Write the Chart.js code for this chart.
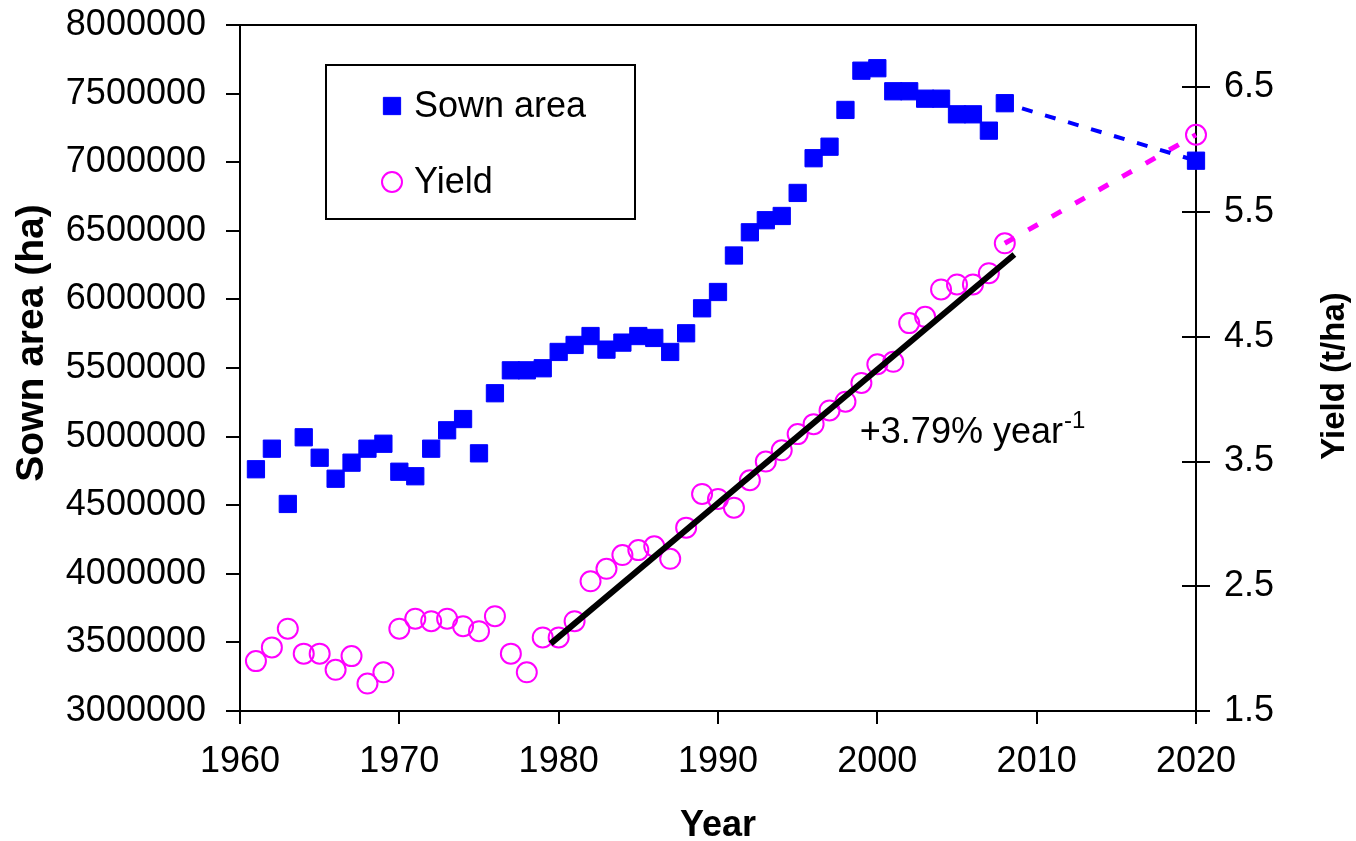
<!DOCTYPE html>
<html>
<head>
<meta charset="utf-8">
<title>Sown area and yield</title>
<script src="https://cdn.jsdelivr.net/npm/chart.js@4.4.1/dist/chart.umd.min.js"></script>
<style>
  html, body { margin: 0; padding: 0; background: #ffffff; }
  #wrap { width: 1356px; height: 841px; }
</style>
</head>
<body>
<div id="wrap"><canvas id="chart" width="1356" height="841"></canvas></div>
<script>
// ---- data ----
const years = [1961, 1962, 1963, 1964, 1965, 1966, 1967, 1968, 1969, 1970,
               1971, 1972, 1973, 1974, 1975, 1976, 1977, 1978, 1979, 1980,
               1981, 1982, 1983, 1984, 1985, 1986, 1987, 1988, 1989, 1990,
               1991, 1992, 1993, 1994, 1995, 1996, 1997, 1998, 1999, 2000,
               2001, 2002, 2003, 2004, 2005, 2006, 2007, 2008, 2020];

// sown area, ha
const sownArea = [4762000, 4912000, 4509000, 4995000, 4846000, 4693000, 4810000, 4912000, 4948000, 4744000,
                  4711000, 4912000, 5046000, 5128000, 4878000, 5316000, 5483000, 5483000, 5498000, 5617000,
                  5668000, 5733000, 5634000, 5685000, 5733000, 5719000, 5617000, 5753000, 5935000, 6054000,
                  6320000, 6489000, 6577000, 6608000, 6776000, 7029000, 7113000, 7381000, 7667000, 7685000,
                  7517000, 7517000, 7463000, 7463000, 7349000, 7349000, 7230000, 7430000, 7011000];

// yield, t/ha
const yieldTHa = [1.90, 2.01, 2.16, 1.96, 1.96, 1.83, 1.94, 1.72, 1.81, 2.16,
                  2.24, 2.22, 2.24, 2.18, 2.14, 2.26, 1.96, 1.81, 2.09, 2.09,
                  2.22, 2.54, 2.64, 2.75, 2.79, 2.82, 2.72, 2.97, 3.24, 3.20,
                  3.13, 3.35, 3.50, 3.59, 3.72, 3.80, 3.91, 3.98, 4.13, 4.28,
                  4.30, 4.61, 4.66, 4.88, 4.92, 4.92, 5.01, 5.25, 6.12];

// projection from the last observed year to 2020
const projectionYears = [2008, 2020];
const sownProjection = [7430000, 7011000];
const yieldProjection = [5.25, 6.12];

// linear yield trend since 1980
const trendYears = [1979.5, 2008.6];
const trendYield = [2.04, 5.16];
const trendText = '+3.79% year';
const trendSup = '-1';

// axis ticks
const yearTicks = [1960, 1970, 1980, 1990, 2000, 2010, 2020];
const areaTicks = [3000000, 3500000, 4000000, 4500000, 5000000, 5500000,
                   6000000, 6500000, 7000000, 7500000, 8000000];
const yieldTicks = [1.5, 2.5, 3.5, 4.5, 5.5, 6.5];

// ---- styling ----
const FONT = '"Liberation Sans", Arial, Helvetica, sans-serif';
const BLUE = '#0000ff';
const MAGENTA = '#ff00ff';

const pts = (xs, ys) => xs.map((x, i) => ({ x: x, y: ys[i] }));
const fixedTicks = list => scale => { scale.ticks = list.map(v => ({ value: v })); };

// frame, inner half of right ticks, axis titles, legend and trend label
const decorations = {
  id: 'decorations',
  afterDraw(chart) {
    const { ctx, chartArea: a, scales } = chart;
    ctx.save();
    ctx.strokeStyle = '#000';
    ctx.lineWidth = 2;
    ctx.lineCap = 'butt';

    // top edge of the plot frame
    ctx.beginPath();
    ctx.moveTo(a.left - 1, a.top);
    ctx.lineTo(a.right + 1, a.top);
    ctx.stroke();

    // right axis ticks cross the axis line
    const y2 = scales.y2;
    y2.ticks.forEach(t => {
      const p = Math.round(y2.getPixelForValue(t.value));
      ctx.beginPath();
      ctx.moveTo(a.right - 14, p);
      ctx.lineTo(a.right, p);
      ctx.stroke();
    });

    // axis titles
    ctx.fillStyle = '#000';
    ctx.textAlign = 'center';
    ctx.textBaseline = 'middle';
    ctx.font = 'bold 36px ' + FONT;
    ctx.fillText('Year', (a.left + a.right) / 2, 826);

    ctx.save();
    ctx.translate(32, 343);
    ctx.rotate(-Math.PI / 2);
    ctx.font = 'bold 39px ' + FONT;
    ctx.fillText('Sown area (ha)', 0, 0);
    ctx.restore();

    ctx.save();
    ctx.translate(1335, 376);
    ctx.rotate(-Math.PI / 2);
    ctx.font = 'bold 33px ' + FONT;
    ctx.fillText('Yield (t/ha)', 0, 0);
    ctx.restore();

    // legend box
    const lx = a.left + 86, ly = a.top + 40, lw = 309, lh = 154;
    ctx.lineWidth = 2;
    ctx.strokeRect(lx, ly, lw, lh);

    const entries = [
      { ds: chart.data.datasets[1], y: ly + 41 },
      { ds: chart.data.datasets[3], y: ly + 117 }
    ];
    ctx.font = '36px ' + FONT;
    ctx.textAlign = 'left';
    entries.forEach(e => {
      ctx.save();
      ctx.fillStyle = e.ds.backgroundColor;
      ctx.strokeStyle = e.ds.borderColor;
      ctx.lineWidth = e.ds.borderWidth;
      Chart.helpers.drawPoint(ctx, {
        pointStyle: e.ds.pointStyle,
        radius: e.ds.pointRadius,
        rotation: 0,
        borderWidth: e.ds.borderWidth
      }, lx + 66, e.y);
      ctx.restore();
      ctx.fillStyle = '#000';
      ctx.fillText(e.ds.label, lx + 88, e.y + 1);
    });

    // trend label with superscript
    const tx = scales.x.getPixelForValue(1998.9);
    const ty = scales.y2.getPixelForValue(3.65);
    ctx.font = '36px ' + FONT;
    ctx.textBaseline = 'alphabetic';
    ctx.fillText(trendText, tx, ty);
    const w = ctx.measureText(trendText).width;
    ctx.font = '24px ' + FONT;
    ctx.fillText(trendSup, tx + w + 1, ty - 15);

    ctx.restore();
  }
};

const tickFont = { family: FONT, size: 36 };
const noPadY = s => { s.paddingTop = 0; s.paddingBottom = 0; };

new Chart(document.getElementById('chart'), {
  type: 'scatter',
  data: {
    datasets: [
      {
        label: 'Trend',
        data: pts(trendYears, trendYield),
        yAxisID: 'y2',
        showLine: true,
        borderColor: '#000',
        borderWidth: 6,
        pointRadius: 0,
        order: 0
      },
      {
        label: 'Sown area',
        data: pts(years, sownArea),
        yAxisID: 'y',
        pointStyle: 'rect',
        pointRadius: 12.2,
        borderWidth: 1,
        backgroundColor: BLUE,
        borderColor: BLUE,
        order: 1
      },
      {
        label: 'Sown area projection',
        data: pts(projectionYears, sownProjection),
        yAxisID: 'y',
        showLine: true,
        borderColor: BLUE,
        borderWidth: 4,
        borderDash: [11, 13],
        borderDashOffset: -18,
        pointRadius: 0,
        order: 2
      },
      {
        label: 'Yield',
        data: pts(years, yieldTHa),
        yAxisID: 'y2',
        pointStyle: 'circle',
        pointRadius: 10,
        borderWidth: 2,
        backgroundColor: 'rgba(255,255,255,0)',
        borderColor: MAGENTA,
        order: 3
      },
      {
        label: 'Yield projection',
        data: pts(projectionYears, yieldProjection),
        yAxisID: 'y2',
        showLine: true,
        borderColor: MAGENTA,
        borderWidth: 5,
        borderDash: [11, 16],
        pointRadius: 0,
        order: 4
      }
    ]
  },
  options: {
    responsive: false,
    animation: false,
    devicePixelRatio: 1,
    clip: false,
    layout: { padding: { top: 25, left: 0, right: 0, bottom: 0 } },
    plugins: {
      legend: { display: false },
      tooltip: { enabled: false },
      title: { display: false }
    },
    elements: { line: { tension: 0 } },
    scales: {
      x: {
        type: 'linear',
        min: 1960,
        max: 2020,
        afterBuildTicks: fixedTicks(yearTicks),
        afterFit: s => { s.height = 130; s.paddingLeft = 0; s.paddingRight = 0; },
        grid: { drawOnChartArea: false, drawTicks: true, tickLength: 13, color: '#000', lineWidth: 2 },
        border: { display: true, color: '#000', width: 2 },
        ticks: { font: tickFont, color: '#000', padding: 16, maxRotation: 0, autoSkip: false,
                 callback: v => String(v) }
      },
      y: {
        type: 'linear',
        position: 'left',
        min: 3000000,
        max: 8000000,
        afterBuildTicks: fixedTicks(areaTicks),
        afterFit: s => { s.width = 240; noPadY(s); },
        grid: { drawOnChartArea: false, drawTicks: true, tickLength: 14, color: '#000', lineWidth: 2 },
        border: { display: true, color: '#000', width: 2 },
        ticks: { font: tickFont, color: '#000', padding: 20, autoSkip: false,
                 callback: v => String(v) }
      },
      y2: {
        type: 'linear',
        position: 'right',
        min: 1.5,
        max: 7,
        afterBuildTicks: fixedTicks(yieldTicks),
        afterFit: s => { s.width = 160; noPadY(s); },
        grid: { drawOnChartArea: false, drawTicks: true, tickLength: 14, color: '#000', lineWidth: 2 },
        border: { display: true, color: '#000', width: 2 },
        ticks: { font: tickFont, color: '#000', padding: 14, autoSkip: false,
                 callback: v => v.toFixed(1) }
      }
    }
  },
  plugins: [decorations]
});
</script>
</body>
</html>
